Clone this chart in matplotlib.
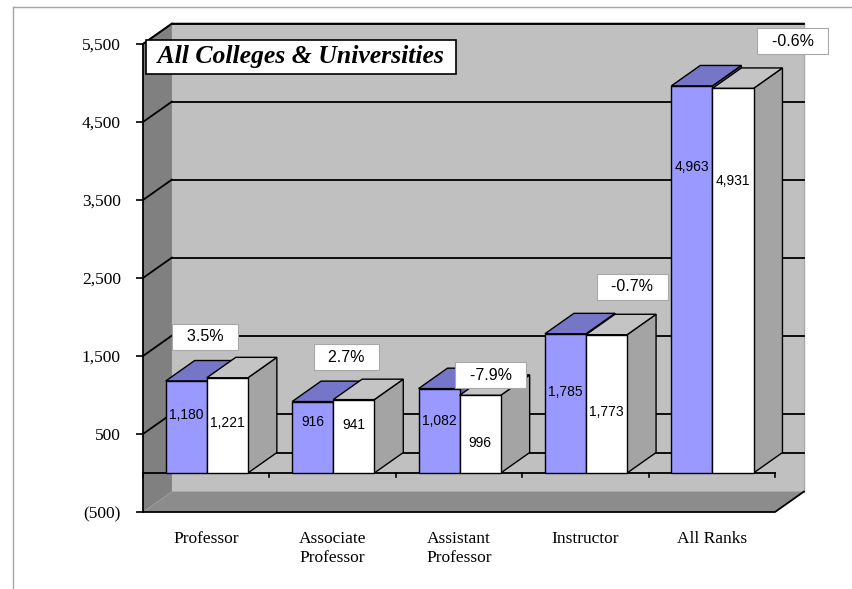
import matplotlib.pyplot as plt
from matplotlib.patches import Polygon
from matplotlib.lines import Line2D

categories = ['Professor', 'Associate\nProfessor', 'Assistant\nProfessor', 'Instructor', 'All Ranks']
count_prev = [1180, 916, 1082, 1785, 4963]
count_curr = [1221, 941, 996, 1773, 4931]
pct_change = ['3.5%', '2.7%', '-7.9%', '-0.7%', '-0.6%']
y_ticks = [-500, 500, 1500, 2500, 3500, 4500, 5500]

# where the value labels sit, as a share of the bar height
label_frac_prev = [0.63, 0.71, 0.62, 0.58, 0.79]
label_frac_curr = [0.53, 0.65, 0.39, 0.44, 0.76]
# percent boxes: offset from category centre, height in data units
pct_dx = [-0.01, 0.11, 0.25, 0.37, 0.64]
pct_y = [1744, 1487, 1256, 2385, 5538]

DX, DY = 0.229, 262       # depth of the fake 3d
BW, GAP = 0.325, 0.18
YMIN, YMAX = -500, 5500
SANS = 'Liberation Sans'
SERIF = 'Liberation Serif'

fig = plt.figure(figsize=(8.52, 5.89), dpi=100)
ax = fig.add_axes([143 / 852, 77 / 589, 632 / 852, 468 / 589])
ax.set_xlim(0, 5)
ax.set_ylim(YMIN, YMAX)
n = len(categories)


def face(pts, fc, ec='black', lw=1.0, z=1):
    ax.add_patch(Polygon(pts, closed=True, facecolor=fc, edgecolor=ec,
                         linewidth=lw, zorder=z, clip_on=False))


# walls and floor
face([(DX, YMIN + DY), (n + DX, YMIN + DY), (n + DX, YMAX + DY), (DX, YMAX + DY)],
     '#c0c0c0', ec='none', z=0.5)
face([(0, YMIN), (DX, YMIN + DY), (DX, YMAX + DY), (0, YMAX)], '#808080', ec='none', z=0.6)
face([(0, YMIN), (n, YMIN), (n + DX, YMIN + DY), (DX, YMIN + DY)], '#8c8c8c', ec='none', z=0.7)
ax.plot([0, DX, n + DX], [YMAX, YMAX + DY, YMAX + DY], color='black', lw=1.2, zorder=1, clip_on=False)
ax.plot([n + DX, n + DX], [YMIN + DY, YMAX + DY], color='#a8a8a8', lw=1.0, zorder=1, clip_on=False)
ax.plot([0, n, n + DX], [YMIN, YMIN, YMIN + DY], color='black', lw=1.3, zorder=1, clip_on=False)

# gridlines on back and side wall
for v in [0] + y_ticks[1:]:
    ax.plot([DX, n + DX], [v + DY, v + DY], color='black', lw=1.3, zorder=1.5, clip_on=False)
for v in y_ticks[1:]:
    ax.plot([0, DX], [v, v + DY], color='black', lw=1.3, zorder=1.5, clip_on=False)

# category axis at zero
ax.plot([0, n], [0, 0], color='black', lw=1.3, zorder=2, clip_on=False)
for i in range(n + 1):
    ax.plot([i, i], [0, -55], color='black', lw=1.2, zorder=2, clip_on=False)

# bars, painted left to right
z = 5
for i in range(n):
    for j, (vals, fracs, front, top, side) in enumerate([
            (count_prev, label_frac_prev, '#9999ff', '#7676c8', '#6262a8'),
            (count_curr, label_frac_curr, '#ffffff', '#c4c4c4', '#a4a4a4')]):
        h = vals[i]
        x0 = i + GAP + j * BW
        x1 = x0 + BW
        face([(x1, 0), (x1 + DX, DY), (x1 + DX, h + DY), (x1, h)], side, z=z)
        face([(x0, h), (x1, h), (x1 + DX, h + DY), (x0 + DX, h + DY)], top, z=z + 1)
        ax.bar(x0, h, width=BW, align='edge', color=front, edgecolor='black',
               linewidth=1.0, zorder=z + 2)
        ax.text(x0 + BW / 2, h * fracs[i], f'{h:,}', ha='center', va='center',
                fontsize=10, family=SANS, zorder=100)
        z += 3

# percent change boxes
for i in range(n):
    ax.text(i + 0.5 + pct_dx[i], pct_y[i], '  ' + pct_change[i] + '  ', ha='center', va='center',
            fontsize=11.5, family=SANS, zorder=110,
            bbox=dict(boxstyle='square,pad=0.35', fc='white', ec='#a8a8a8', lw=0.8))

# axes
for s in ['top', 'right', 'bottom']:
    ax.spines[s].set_visible(False)
ax.spines['left'].set_linewidth(1.3)
ax.spines['left'].set_zorder(3)
ax.set_yticks(y_ticks)
ax.set_yticklabels([f'({-v:,})' if v < 0 else f'{v:,}' for v in y_ticks],
                   family=SERIF, fontsize=12.5)
ax.tick_params(axis='y', length=5, width=1.2, pad=11)
ax.set_xticks([i + 0.5 for i in range(n)])
ax.set_xticklabels(categories, family=SERIF, fontsize=12.5)
ax.tick_params(axis='x', length=0, pad=14)
ax.set_facecolor('none')

fig.text(152 / 852, 1 - 57 / 589, ' All Colleges & Universities ', family=SERIF,
         fontsize=18.5, fontweight='bold', fontstyle='italic', va='center', ha='left', zorder=120,
         bbox=dict(boxstyle='square,pad=0.22', fc='white', ec='black', lw=1.2))

# outer frame
fig.add_artist(Line2D([13 / 852, 1], [1 - 7 / 589, 1 - 7 / 589], color='#a6a6a6', lw=1))
fig.add_artist(Line2D([13 / 852, 13 / 852], [0, 1 - 7 / 589], color='#a6a6a6', lw=1))

fig.savefig('out.png', dpi=100)
